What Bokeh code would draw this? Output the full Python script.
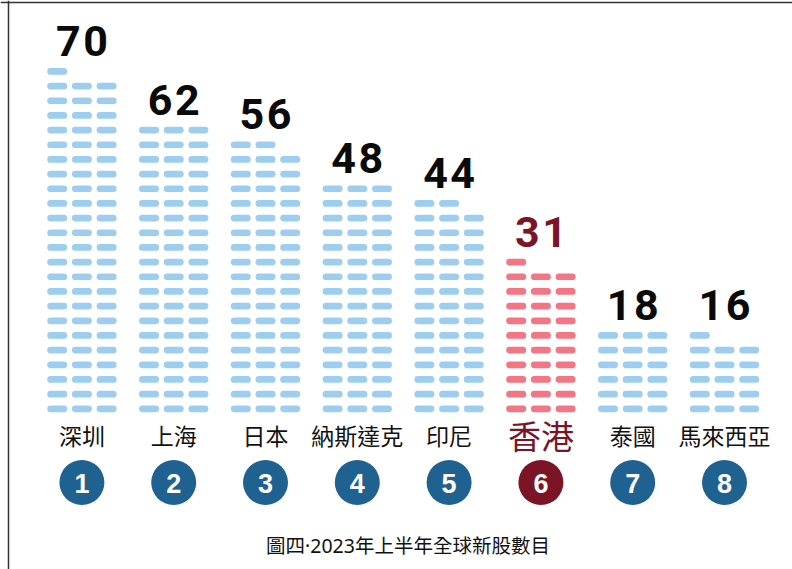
from bokeh.plotting import figure
from bokeh.models import Range1d, Span, ColumnDataSource
from bokeh.core.properties import value
from bokeh.embed import file_html
from bokeh.resources import INLINE

# ---- data ----
regions = ["深圳", "上海", "日本", "納斯達克", "印尼", "香港", "泰國", "馬來西亞"]
values = [70, 62, 56, 48, 44, 31, 18, 16]          # labelled IPO counts
icons = [70, 60, 56, 48, 44, 31, 18, 16]           # pills drawn in the picture
ranks = ["1", "2", "3", "4", "5", "6", "7", "8"]
highlight = "香港"
title = "圖四·2023年上半年全球新股數目"

# ---- layout constants (pixels) ----
W, H = 792, 569
PX0, COLW = 81.4, 91.8      # first column centre, column pitch
ROW0, ROWH = 408.3, 14.67   # bottom row centre, row pitch
SLOT = 24.7 / COLW          # pill pitch inside column (data units)
HALF = 6.65 / COLW          # half core length of a pill

BLUE_PILL = "#9DCEF0"
RED_PILL = "#F27684"
DARK_RED = "#7B1426"
CIRCLE_BLUE = "#1F6191"
CJK = "Noto Sans, Noto Sans CJK TC"

p = figure(width=W, height=H, output_backend="svg", toolbar_location=None,
           x_range=Range1d(-PX0 / COLW, (W - PX0) / COLW),
           y_range=Range1d((ROW0 - H) / ROWH, ROW0 / ROWH),
           min_border=0, min_border_left=0, min_border_right=0,
           min_border_top=0, min_border_bottom=0)
p.axis.visible = False
p.grid.visible = False
p.outline_line_color = None
p.background_fill_color = "white"
p.border_fill_color = "white"

# pills
x0, x1, ys, cols = [], [], [], []
for ci, (reg, n) in enumerate(zip(regions, icons)):
    for i in range(n):
        row, slot = divmod(i, 3)
        xc = ci + (slot - 1) * SLOT
        x0.append(xc - HALF)
        x1.append(xc + HALF)
        ys.append(row)
        cols.append(RED_PILL if reg == highlight else BLUE_PILL)
p.segment(x0=x0, y0=ys, x1=x1, y1=ys, line_color=cols, line_width=6.7,
          line_cap="round")

# value labels (digits spaced apart)
dx, dy, dtxt, dcol, doff = [], [], [], [], []
for ci, (reg, v, n) in enumerate(zip(regions, values, icons)):
    s = str(v)
    top = (n - 1) // 3
    for k, ch in enumerate(s):
        dx.append(ci)
        dy.append(top + 30.5 / ROWH)
        dtxt.append(ch)
        dcol.append(DARK_RED if reg == highlight else "#0A0A0A")
        doff.append((k - (len(s) - 1) / 2) * 27.2)
src = ColumnDataSource(dict(x=dx, y=dy, t=dtxt, c=dcol, o=doff))
p.text(x="x", y="y", text="t", source=src, text_color="c", x_offset="o",
       text_font=value("Roboto"), text_font_style="bold",
       text_font_size="43px", text_align="center", text_baseline="middle")

# category labels
lab_y = (ROW0 - 435.5) / ROWH
idx = list(range(len(regions)))
normal = [i for i in idx if regions[i] != highlight]
hl = [i for i in idx if regions[i] == highlight]
p.text(x=normal, y=[lab_y] * len(normal), text=[regions[i] for i in normal],
       text_font=value(CJK), text_font_size="23px",
       text_color="#111111", text_align="center", text_baseline="middle")
p.text(x=hl, y=[lab_y] * len(hl), text=[regions[i] for i in hl],
       text_font=value(CJK), text_font_size="33px",
       text_color=DARK_RED, text_align="center", text_baseline="middle")

# rank circles
circ_y = (ROW0 - 482) / ROWH
p.scatter(x=idx, y=[circ_y] * len(idx), size=45,
          fill_color=[DARK_RED if r == highlight else CIRCLE_BLUE for r in regions],
          line_color=None)
p.text(x=idx, y=[circ_y] * len(idx), text=ranks, text_color="white",
       text_font=value("Liberation Sans"), text_font_style="bold",
       text_font_size="27px", text_align="center", text_baseline="middle",
       y_offset=1)

# title
p.text(x=[(407.5 - PX0) / COLW], y=[(ROW0 - 545) / ROWH], text=[title],
       text_font=value(CJK), text_font_size="19.5px",
       text_color="#111111", text_align="center", text_baseline="middle")

# frame lines (top and left)
p.add_layout(Span(location=(ROW0 - 2) / ROWH, dimension="width",
                  line_color="#333333", line_width=1.5))
p.add_layout(Span(location=(8 - PX0) / COLW, dimension="height",
                  line_color="#333333", line_width=1.5))

open("out.html", "w").write(file_html(p, INLINE))
